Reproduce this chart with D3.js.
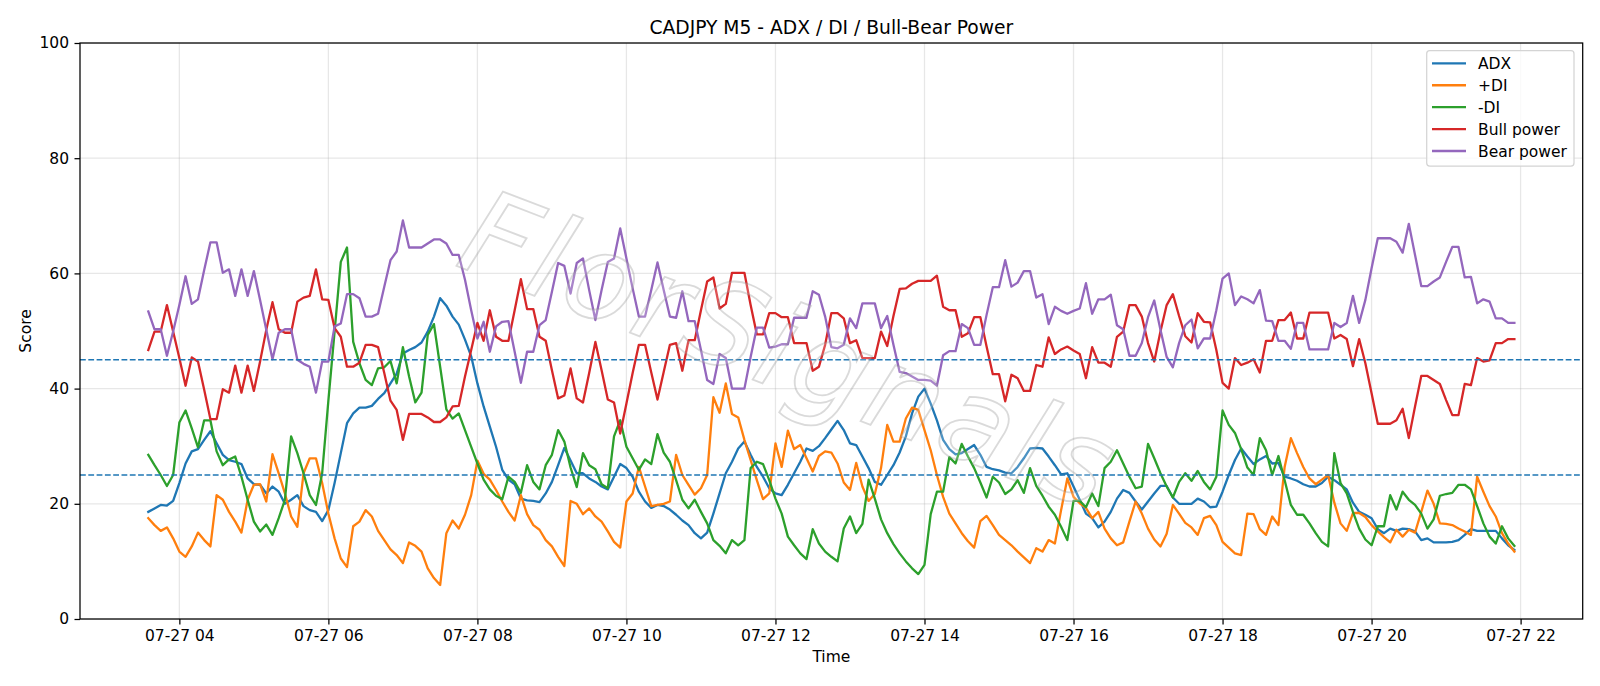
<!DOCTYPE html>
<html><head><meta charset="utf-8">
<script src="https://cdn.jsdelivr.net/npm/d3@7"></script>
<style>
body{margin:0;background:#fff;}
svg text{font-family:"DejaVu Sans",sans-serif;}
</style>
</head><body>
<svg id="chart" width="1600" height="686"></svg>
<script>
// ---------------- DATA ----------------
const startTime = "2025-07-27T03:35:00";
const stepMinutes = 5;

const adx = [
18.6,19.2,19.8,19.7,20.5,23.6,27.0,29.1,29.5,31.1,
32.6,30.5,28.5,27.6,27.3,26.9,24.4,23.4,23.3,21.8,
23.0,22.1,20.0,20.7,21.5,19.6,18.9,18.6,17.0,18.9,
23.6,28.8,34.0,35.7,36.7,36.7,37.0,38.2,39.2,40.9,
42.6,46.1,46.7,47.2,48.0,49.9,52.5,55.7,54.4,52.5,
51.1,48.5,45.6,40.9,36.9,33.4,29.9,25.9,24.2,23.4,
20.9,20.6,20.5,20.3,21.8,23.8,26.7,29.7,27.5,25.3,
25.3,24.4,23.8,23.0,22.5,24.7,26.9,26.2,24.7,22.1,
20.4,19.3,19.8,19.6,19.0,18.1,17.1,16.3,14.9,14.0,
15.0,18.3,21.8,25.3,27.3,29.6,30.8,28.5,26.4,24.7,
22.7,21.8,21.5,23.3,25.3,27.3,29.6,29.2,30.0,31.4,
32.9,34.4,32.8,30.5,30.2,28.2,26.2,23.8,23.3,25.0,
26.7,28.9,31.7,35.7,38.6,40.0,37.4,34.5,31.1,29.5,
28.6,28.8,29.5,30.2,28.5,26.4,26.0,25.8,25.4,25.3,
26.4,27.9,29.6,29.7,29.6,28.2,26.7,25.1,25.3,23.0,
20.7,18.3,17.5,15.9,16.9,18.6,20.9,22.4,21.9,20.4,
19.0,20.4,21.8,23.1,23.1,21.1,20.0,20.0,20.0,20.9,
20.4,19.4,19.5,22.1,25.0,27.6,29.6,28.2,26.9,27.7,
28.3,27.0,27.1,24.7,24.4,24.0,23.4,23.0,23.0,23.6,
24.7,24.1,23.3,22.5,20.2,18.6,18.1,17.5,15.6,14.9,
15.7,15.3,15.7,15.6,15.2,13.7,14.0,13.3,13.3,13.3,
13.4,13.7,14.6,15.6,15.3,15.3,15.3,15.3,14.0,12.8,12.0];

const plusDI = [
17.5,16.3,15.3,15.9,14.0,11.7,10.8,12.6,15.0,13.7,
12.6,21.5,20.7,18.6,16.9,15.0,20.7,23.3,23.4,20.4,
28.6,25.3,21.8,17.8,16.0,25.3,27.9,27.9,23.6,18.3,
14.0,10.5,9.0,16.1,16.9,18.9,17.8,15.3,13.7,12.1,
11.1,9.7,13.3,12.7,11.7,8.8,7.1,5.9,14.9,17.1,
15.7,18.1,21.5,27.5,25.2,24.2,22.4,20.4,18.6,17.1,
21.5,18.2,16.3,15.5,13.7,12.6,10.8,9.2,20.5,20.0,
18.2,19.2,17.8,16.9,15.2,13.4,12.4,20.4,21.8,26.4,
23.0,19.6,19.8,20.0,20.4,28.5,25.0,23.3,21.6,22.7,
25.0,38.5,35.8,40.9,35.6,35.0,31.1,27.6,24.1,20.8,
21.8,30.5,26.4,32.7,29.5,30.2,27.9,25.6,28.3,29.1,
28.9,27.0,23.7,22.4,27.1,23.0,20.5,21.7,26.2,33.7,
30.8,30.8,34.8,36.7,36.3,32.8,29.3,25.0,21.2,18.3,
16.6,14.9,13.5,12.4,17.0,17.9,16.3,14.6,13.7,12.8,
11.7,10.7,9.7,12.3,11.7,13.7,13.1,18.9,24.4,21.2,
20.1,19.3,17.5,18.6,15.7,14.0,12.8,13.3,16.9,20.4,
18.3,15.7,13.8,12.6,14.8,19.8,18.3,16.7,15.9,14.6,
17.5,17.9,16.3,13.4,12.4,11.4,11.1,18.3,18.2,15.6,
14.6,17.8,16.3,26.4,31.4,28.8,26.4,24.4,23.4,24.2,
25.0,20.2,16.6,15.3,18.4,18.4,17.7,16.3,15.2,14.2,
13.3,15.5,14.3,15.5,15.0,18.6,22.3,20.0,16.6,16.5,
16.3,15.7,15.2,14.6,24.7,22.1,19.6,17.8,14.9,13.1,11.7];

const minusDI = [
28.5,26.7,25.0,23.1,25.0,34.1,36.2,33.1,29.8,34.5,
34.5,29.1,26.7,27.7,28.2,24.7,20.7,16.9,15.2,16.4,
14.6,17.5,20.7,31.7,28.8,25.3,21.5,19.8,25.3,37.9,
49.9,62.0,64.5,48.1,44.4,41.5,40.6,43.5,43.7,44.8,
40.9,47.2,42.1,37.6,39.3,49.3,51.2,43.8,36.4,34.8,
35.7,32.8,29.9,27.0,24.2,22.5,21.4,20.8,24.7,23.8,
21.9,26.7,23.8,22.5,26.7,28.5,32.8,30.8,26.3,22.9,
28.8,26.7,26.0,23.4,22.7,31.7,34.5,29.9,27.9,25.9,
27.7,26.9,32.1,28.9,27.3,24.1,20.7,19.2,20.7,18.6,
16.6,13.7,12.7,11.4,13.7,12.8,13.7,26.2,27.3,26.9,
24.1,20.9,18.3,14.3,12.8,11.4,10.4,15.6,13.1,11.7,
10.8,10.0,15.7,17.8,14.9,16.5,24.2,20.9,17.3,14.9,
13.0,11.4,10.0,8.8,7.8,9.4,18.2,22.1,22.1,28.1,
27.0,30.4,28.2,26.2,23.7,21.1,24.7,23.7,21.7,22.5,
24.1,21.9,26.2,23.1,21.4,19.5,18.1,16.0,13.7,20.5,
20.5,19.4,21.8,19.6,26.2,27.3,29.3,27.0,24.7,22.7,
23.0,30.4,27.9,25.3,23.0,21.1,23.8,25.3,24.0,25.7,
23.8,22.5,24.7,36.2,33.7,32.3,29.5,26.3,25.0,31.4,
29.3,25.0,28.3,24.1,19.8,18.1,18.1,16.6,14.9,13.4,
12.6,28.8,23.6,21.8,18.6,15.7,13.8,12.8,16.1,16.1,
21.5,19.0,22.1,20.7,19.8,18.3,15.7,17.3,21.4,21.7,
21.9,23.3,23.3,22.5,19.6,16.6,14.3,13.1,16.1,14.0,12.7];

const bullPower = [
46.7,49.9,49.9,54.5,49.9,45.3,40.5,45.4,44.7,39.8,
34.7,34.7,39.9,39.3,44.0,39.3,44.0,39.6,44.7,50.2,
55.0,50.3,49.7,49.7,55.1,55.8,56.1,60.7,55.5,55.4,
50.5,49.0,43.8,43.8,44.5,47.6,47.6,47.2,42.7,37.9,
36.3,31.1,35.6,35.6,35.6,35.0,34.2,34.2,35.0,36.9,
37.0,42.1,46.7,51.4,48.3,53.6,49.0,48.3,48.3,53.6,
59.0,53.8,53.8,49.0,48.3,43.2,38.3,38.8,43.5,38.3,
37.6,42.7,48.1,43.2,38.1,37.6,32.2,37.4,42.7,47.6,
47.6,42.8,38.1,42.9,47.6,47.9,43.1,48.4,48.4,53.6,
58.6,59.3,53.9,54.7,60.1,60.1,60.1,54.5,49.4,49.4,
53.1,53.1,52.4,52.4,47.9,47.9,47.9,43.1,43.8,47.6,
53.1,53.1,52.2,47.9,48.4,45.3,45.3,45.3,49.9,47.4,
52.6,57.3,57.4,58.2,58.7,58.7,58.7,59.6,54.2,53.6,
53.6,49.0,49.6,52.4,52.4,47.3,42.5,42.5,37.8,42.4,
41.8,39.6,39.6,44.1,43.8,48.9,46.0,46.8,47.3,46.6,
46.0,41.8,47.2,44.5,44.5,43.8,49.0,49.9,54.5,54.5,
52.5,47.9,44.7,49.9,54.5,56.4,52.6,49.1,48.0,53.1,
51.6,51.5,46.7,41.0,40.0,45.3,44.1,44.5,45.1,42.8,
48.3,48.3,51.9,51.9,53.2,48.7,48.7,53.2,53.2,53.2,
53.2,48.7,49.3,48.6,43.9,48.6,44.4,39.2,33.9,33.9,
33.9,34.5,36.5,31.4,36.9,42.2,42.2,41.5,40.8,38.0,
35.4,35.4,40.8,40.6,45.3,44.7,44.9,47.9,47.9,48.6,48.6];

const bearPower = [
53.4,50.3,50.3,45.7,49.9,54.5,59.5,54.7,55.5,60.6,
65.4,65.4,60.1,60.7,56.1,60.7,56.1,60.4,55.4,50.2,
45.1,49.7,50.3,50.3,45.0,44.3,43.8,39.3,44.7,44.7,
50.8,51.3,56.4,56.4,55.7,52.5,52.5,53.0,57.7,62.3,
63.8,69.2,64.5,64.5,64.5,65.2,65.9,65.9,65.2,63.2,
63.2,58.9,53.6,48.7,51.6,46.4,50.8,51.6,51.7,46.4,
41.0,46.4,46.4,51.0,51.9,56.8,61.8,61.3,56.5,61.8,
62.6,57.1,51.9,57.1,62.0,62.6,67.8,62.6,57.4,52.5,
52.5,57.1,61.9,57.1,52.5,52.3,56.9,51.7,51.7,46.7,
41.5,40.8,46.0,45.3,40.0,40.0,40.0,45.5,50.6,50.6,
47.1,47.3,47.7,47.7,52.3,52.3,52.3,56.9,56.3,52.5,
47.2,47.0,47.6,52.2,50.5,54.8,54.8,54.8,50.5,52.6,
47.6,42.9,42.7,42.1,41.5,41.5,41.4,40.5,45.8,46.5,
46.5,51.2,50.5,47.6,47.6,52.8,57.6,57.6,62.3,57.7,
58.4,60.4,60.4,55.8,56.4,51.2,54.2,53.5,53.0,53.5,
53.9,58.3,53.0,55.5,55.5,56.3,51.0,50.3,45.7,45.7,
47.9,52.4,55.3,50.2,45.5,43.7,47.9,51.0,52.0,47.0,
48.7,48.7,53.6,59.1,60.0,54.5,56.0,55.5,54.8,57.1,
51.8,51.7,48.3,48.3,46.9,51.4,51.4,46.8,46.8,46.8,
46.8,51.4,50.7,51.4,56.1,51.4,55.4,60.9,66.1,66.1,
66.1,65.5,63.6,68.6,63.2,57.8,57.8,58.6,59.3,62.0,
64.6,64.6,59.3,59.4,54.8,55.5,55.1,52.2,52.2,51.4,51.4];

const seriesNames = ["ADX", "+DI", "-DI", "Bull power", "Bear power"];
const seriesColors = ["#1f77b4", "#ff7f0e", "#2ca02c", "#d62728", "#9467bd"];
const thresholds = [45, 25];
const yTicks = [0, 20, 40, 60, 80, 100];
const titleText = "CADJPY M5 - ADX / DI / Bull-Bear Power";
const xLabel = "Time";
const yLabel = "Score";
const watermarkText = "FlorSignals";

// ---------------- LAYOUT ----------------
const W = 1600, H = 686;
const L = 80, R = 1582.7, T = 43, B = 619;
const svg = d3.select("#chart");
svg.append("rect").attr("width", W).attr("height", H).attr("fill", "#fff");

const parse = d3.timeParse("%Y-%m-%dT%H:%M:%S");
const t0 = parse(startTime);
const times = adx.map((_, i) => d3.timeMinute.offset(t0, i * stepMinutes));
const tMin = times[0], tMax = times[times.length - 1];
const span = tMax - tMin;
const x = d3.scaleTime()
  .domain([new Date(+tMin - 0.05 * span), new Date(+tMax + 0.05 * span)])
  .range([L, R]);
const y = d3.scaleLinear().domain([0, 100]).range([B, T]);

// grid
const xTickVals = x.ticks(d3.timeHour.every(2));
const grid = svg.append("g");
grid.selectAll("line.gx").data(xTickVals).join("line")
  .attr("x1", d => x(d)).attr("x2", d => x(d)).attr("y1", T).attr("y2", B)
  .attr("stroke", "#b0b0b0").attr("stroke-opacity", 0.3).attr("stroke-width", 1.25);
grid.selectAll("line.gy").data(yTicks).join("line")
  .attr("x1", L).attr("x2", R).attr("y1", d => y(d)).attr("y2", d => y(d))
  .attr("stroke", "#b0b0b0").attr("stroke-opacity", 0.3).attr("stroke-width", 1.25);

// lines
const allSeries = [adx, plusDI, minusDI, bullPower, bearPower];
const line = d3.line().x((d, i) => x(times[i])).y(d => y(d));
const plot = svg.append("g");
allSeries.forEach((s, k) => {
  plot.append("path").datum(s)
    .attr("d", line)
    .attr("fill", "none")
    .attr("stroke", seriesColors[k])
    .attr("stroke-width", 2.3)
    .attr("stroke-linejoin", "round")
    .attr("stroke-linecap", "square");
});

// threshold lines
plot.selectAll("line.th").data(thresholds).join("line")
  .attr("x1", L).attr("x2", R).attr("y1", d => y(d)).attr("y2", d => y(d))
  .attr("stroke", "#1f77b4").attr("stroke-width", 1.56)
  .attr("stroke-dasharray", "5.8,2.5");

// watermark
svg.append("text")
  .attr("transform", "translate(790,350) rotate(21)")
  .attr("text-anchor", "middle")
  .attr("dominant-baseline", "central")
  .attr("font-size", 118)
  .attr("font-style", "italic")
  .attr("letter-spacing", 4)
  .attr("fill", "rgba(255,255,255,0.2)")
  .attr("stroke", "rgba(150,150,150,0.35)")
  .attr("stroke-width", 1.8)
  .text(watermarkText);

// axes
const fmt = d3.timeFormat("%m-%d %H");
const xAxis = d3.axisBottom(x).tickValues(xTickVals).tickFormat(fmt).tickSize(5.5).tickPadding(5.5);
const yAxis = d3.axisLeft(y).tickValues(yTicks).tickSize(5.5).tickPadding(5.5);
const gx = svg.append("g").attr("transform", `translate(0,${B})`).call(xAxis);
const gy = svg.append("g").attr("transform", `translate(${L},0)`).call(yAxis);
[gx, gy].forEach(g => {
  g.select(".domain").remove();
  g.selectAll(".tick line").attr("stroke", "#000").attr("stroke-width", 1.25);
  g.selectAll(".tick text").attr("fill", "#000").attr("font-size", 15.5)
    .attr("font-family", "DejaVu Sans");
});
gx.selectAll(".tick text").attr("dy", "0.74em");

// spines
svg.append("rect").attr("x", L).attr("y", T).attr("width", R - L).attr("height", B - T)
  .attr("fill", "none").attr("stroke", "#000").attr("stroke-width", 1.25);

// title and labels
svg.append("text").attr("x", (L + R) / 2).attr("y", 33.5).attr("text-anchor", "middle")
  .attr("font-size", 18.7).attr("fill", "#000").text(titleText);
svg.append("text").attr("x", (L + R) / 2).attr("y", 662).attr("text-anchor", "middle")
  .attr("font-size", 15.5).attr("fill", "#000").text(xLabel);
svg.append("text").attr("transform", `translate(25.5,${(T + B) / 2}) rotate(-90)`)
  .attr("text-anchor", "middle").attr("dominant-baseline", "central")
  .attr("font-size", 15.5).attr("fill", "#000").text(yLabel);

// legend
const lg = svg.append("g");
lg.append("rect").attr("x", 1426.7).attr("y", 50.7).attr("width", 147.3).attr("height", 115.3)
  .attr("rx", 3).attr("fill", "rgba(255,255,255,0.8)").attr("stroke", "#d4d4d4").attr("stroke-width", 1.25);
const rowY = d3.scaleLinear().domain([0, 4]).range([63.3, 151]);
seriesNames.forEach((name, k) => {
  const yy = rowY(k);
  lg.append("line").attr("x1", 1432).attr("x2", 1466).attr("y1", yy).attr("y2", yy)
    .attr("stroke", seriesColors[k]).attr("stroke-width", 2.3);
  lg.append("text").attr("x", 1478).attr("y", yy + 5.6).attr("font-size", 15.5)
    .attr("fill", "#000").text(name);
});
</script>
</body></html>
